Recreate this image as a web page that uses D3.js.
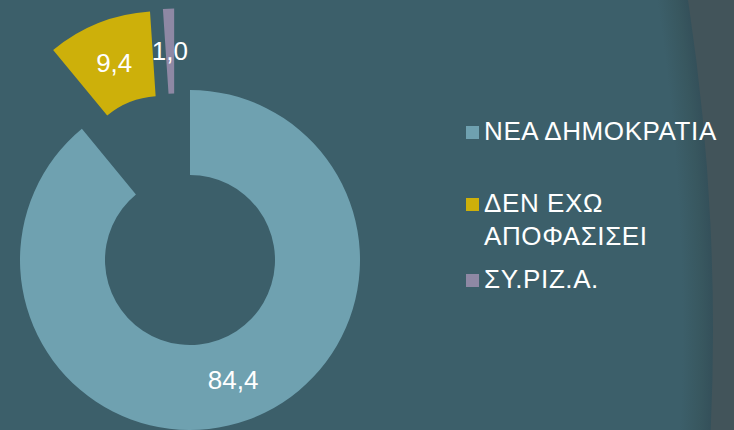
<!DOCTYPE html>
<html>
<head>
<meta charset="utf-8">
<script src="https://cdn.jsdelivr.net/npm/d3@7"></script>
<style>
  body { margin: 0; background: #42545a; }
  svg { display: block; font-family: "Liberation Sans", Arial, sans-serif; }
</style>
</head>
<body>
<svg id="chart"></svg>
<script>
// Data
var categories = ["ΝΕΑ ΔΗΜΟΚΡΑΤΙΑ", "ΔΕΝ ΕΧΩ ΑΠΟΦΑΣΙΣΕΙ", "ΣΥ.ΡΙΖ.Α."];
var values = [84.4, 9.4, 1.0];
var legendLines = [["ΝΕΑ ΔΗΜΟΚΡΑΤΙΑ"], ["ΔΕΝ ΕΧΩ", "ΑΠΟΦΑΣΙΣΕΙ"], ["ΣΥ.ΡΙΖ.Α."]];

// Look
var colors = ["#6fa1b0", "#cdb00a", "#8e88a4"];
// explode distance (px) and direction (deg, clockwise from top) for each slice
var explodeDist = [0, 84, 83];
var explodeDir = [0, -20, -11];

var width = 734, height = 430;
var cx = 190, cy = 260, outerR = 170, innerR = 85;

var svg = d3.select("#chart").attr("width", width).attr("height", height);

// Slide background with curved edge on the right
var defs = svg.append("defs");
var grad = defs.append("radialGradient").attr("id", "bgGrad")
    .attr("gradientUnits", "userSpaceOnUse")
    .attr("cx", -1477).attr("cy", 330).attr("r", 2190);
grad.append("stop").attr("offset", 0.986).attr("stop-color", "#3c5f6a");
grad.append("stop").attr("offset", 0.995).attr("stop-color", "#38575f");
grad.append("stop").attr("offset", 1).attr("stop-color", "#34505a");

svg.append("rect").attr("width", width).attr("height", height).attr("fill", "#42545a");
svg.append("circle").attr("cx", -1477).attr("cy", 330).attr("r", 2190).attr("fill", "url(#bgGrad)");

// Pie
var pie = d3.pie().sort(null).startAngle(0).endAngle(2 * Math.PI);
var arc = d3.arc().innerRadius(innerR).outerRadius(outerR);
var arcs = pie(values);

function offset(i) {
    var a = explodeDir[i] * Math.PI / 180;
    return [explodeDist[i] * Math.sin(a), -explodeDist[i] * Math.cos(a)];
}

var g = svg.append("g").attr("transform", "translate(" + cx + "," + cy + ")");

var slices = g.selectAll(".slice")
    .data(arcs)
    .enter().append("g")
    .attr("class", "slice")
    .attr("transform", (d, i) => "translate(" + offset(i) + ")");

slices.append("path")
    .attr("d", arc)
    .attr("fill", (d, i) => colors[i]);

slices.append("text")
    .attr("transform", d => "translate(" + arc.centroid(d) + ")")
    .attr("text-anchor", "middle")
    .attr("dy", "0.36em")
    .attr("fill", "#ffffff")
    .style("font-size", "26px")
    .text(d => d.value.toFixed(1).replace(".", ","));

// Legend
var legendX = 466, textX = 484;
var baselines = [140, 212, 288];
var lineGap = 33;

var legend = svg.append("g");
var items = legend.selectAll(".item")
    .data(categories)
    .enter().append("g")
    .attr("class", "item");

items.append("rect")
    .attr("x", legendX)
    .attr("y", (d, i) => baselines[i] - 14)
    .attr("width", 13)
    .attr("height", 13)
    .attr("fill", (d, i) => colors[i]);

items.append("text")
    .attr("x", textX)
    .attr("y", (d, i) => baselines[i])
    .attr("fill", "#ffffff")
    .style("font-size", "26px")
    .style("letter-spacing", "0.6px")
    .each(function(d, i) {
        d3.select(this).selectAll("tspan")
            .data(legendLines[i])
            .enter().append("tspan")
            .attr("x", textX)
            .attr("dy", (t, j) => j === 0 ? 0 : lineGap)
            .text(t => t);
    });
</script>
</body>
</html>
